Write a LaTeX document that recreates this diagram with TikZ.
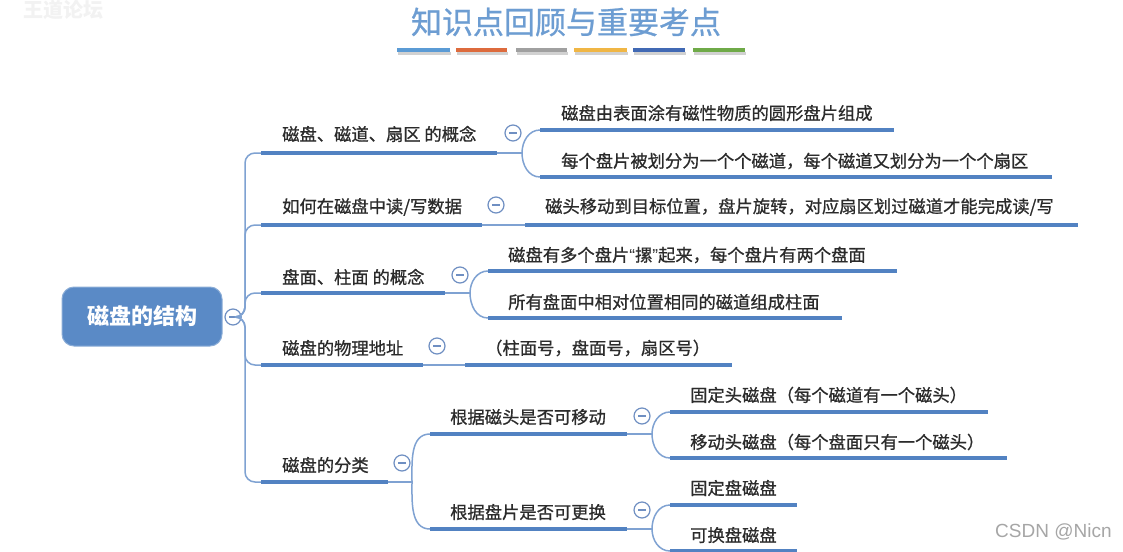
\documentclass[tikz,border=0pt]{standalone}
\usepackage{fontspec}
\newfontfamily\cjk{Noto Sans CJK SC}
\newfontfamily\cjkm[RawFeature={embolden=0.8}]{Noto Sans CJK SC}
\newfontfamily\latinsans{Liberation Sans}
\definecolor{txt}{HTML}{2B2B2B}
\definecolor{ulinec}{HTML}{5282C2}
\definecolor{thinc}{HTML}{7FA2D2}
\definecolor{foldc}{HTML}{6F8FC2}
\definecolor{rootc}{HTML}{5A8AC6}
\definecolor{titlec}{HTML}{6D9DD2}
\definecolor{barA}{HTML}{5B9BD5}
\definecolor{barB}{HTML}{DD6B3D}
\definecolor{barC}{HTML}{A0A0A0}
\definecolor{barD}{HTML}{F0B645}
\definecolor{barE}{HTML}{4169B4}
\definecolor{barF}{HTML}{6FAA48}
\newcommand{\myLq}{{\latinsans “}}
\newcommand{\myRq}{{\latinsans ”}}
\tikzset{
  topic/.style={anchor=west, inner sep=0pt, text=txt, font=\cjkm\fontsize{17.3}{17.3}\selectfont},
  uline/.style={line width=4pt, draw=ulinec},
  thinln/.style={line width=1.5pt, draw=thinc},
  fold/.style={circle, draw=foldc, line width=1.2pt, fill=white, minimum size=16pt, inner sep=0pt,
    path picture={\draw[foldc, line width=1.3pt] ([xshift=-4pt]path picture bounding box.center) -- ([xshift=4pt]path picture bounding box.center);}},
  rootbox/.style={rounded corners=12pt, fill=rootc, draw=rootc!70!white, line width=1pt, minimum width=160pt, minimum height=59pt, text=white, font=\cjk\bfseries\fontsize{22}{22}\selectfont},
  titlebar/.style={line width=4pt},
  barshadow/.style={line width=3pt, draw=black!18},
}
\begin{document}
\begin{tikzpicture}[x=1pt, y=-1pt]
\useasboundingbox (0,0) rectangle (1123,551);
\fill[white] (0,0) rectangle (1123,551);

% watermarks
\node[anchor=west, inner sep=0pt, text=black!5, font=\cjk\bfseries\fontsize{20}{20}\selectfont] (wm) at (23,10) {王道论坛};
\node[anchor=west, inner sep=0pt, text=black!35, font=\latinsans\fontsize{19}{19}\selectfont] (csdn) at (995,532) {CSDN @Nicn};

% title
\node[inner sep=0pt, text=titlec, font=\cjkm\fontsize{31}{31}\selectfont] (title) at (566,22) {知识点回顾与重要考点};
\foreach \a/\b/\c in {397/450/barA, 456/507/barB, 516/567/barC, 574/627/barD, 633/685/barE, 693/745/barF}{
  \draw[barshadow] (\a+1,53.5) -- (\b+1,53.5);
  \draw[titlebar, draw=\c] (\a,50.5) -- (\b,50.5);
}

% root
\node[rootbox] (root) at (142,316.5) {磁盘的结构};
\node[fold] (rootfold) at (233,317) {};
\coordinate (spine) at (245,317);

% level-1 topics
\node[topic] (b1) at (282,134) {磁盘、磁道、扇区 的概念};
\node[topic] (b2) at (282,207) {如何在磁盘中读/写数据};
\node[topic] (b3) at (282,277) {盘面、柱面 的概念};
\node[topic] (b4) at (282,348) {磁盘的物理地址};
\node[topic] (b5) at (282,465) {磁盘的分类};

\node[fold] (f1) at (513,133) {};
\node[fold] (f2) at (496,205) {};
\node[fold] (f3) at (460,275) {};
\node[fold] (f4) at (437,346) {};
\node[fold] (f5) at (402,463) {};

\coordinate (b1s) at (261,153); \coordinate (b1e) at (497,153); \coordinate (b1f) at (522,153);
\coordinate (b2s) at (261,225); \coordinate (b2e) at (482,225);
\coordinate (b3s) at (261,293); \coordinate (b3e) at (445,293); \coordinate (b3f) at (470,293);
\coordinate (b4s) at (261,365); \coordinate (b4e) at (423,365);
\coordinate (b5s) at (261,482); \coordinate (b5e) at (388,482); \coordinate (b5f) at (412,482);

% level-2 topics
\node[topic] (c11) at (561,113) {磁盘由表面涂有磁性物质的圆形盘片组成};
\node[topic] (c12) at (561,161) {每个盘片被划分为一个个磁道，每个磁道又划分为一个个扇区};
\node[topic] (c21) at (545,207) {磁头移动到目标位置，盘片旋转，对应扇区划过磁道才能完成读/写};
\node[topic] (c31) at (508,255) {磁盘有多个盘片\myLq 摞\myRq 起来，每个盘片有两个盘面};
\node[topic] (c32) at (508,302) {所有盘面中相对位置相同的磁道组成柱面};
\node[topic] (c41) at (485,348) {（柱面号，盘面号，扇区号）};
\node[topic] (c51) at (450,417) {根据磁头是否可移动};
\node[topic] (c52) at (450,512) {根据盘片是否可更换};

\coordinate (c11s) at (540,130); \coordinate (c11e) at (894,130);
\coordinate (c12s) at (540,177); \coordinate (c12e) at (1052,177);
\coordinate (c21s) at (525,225); \coordinate (c21e) at (1078,225);
\coordinate (c31s) at (488,271); \coordinate (c31e) at (897,271);
\coordinate (c32s) at (488,318); \coordinate (c32e) at (842,318);
\coordinate (c41s) at (465,365); \coordinate (c41e) at (732,365);
\coordinate (c51s) at (430,434); \coordinate (c51e) at (627,434); \coordinate (c51f) at (652,434);
\coordinate (c52s) at (430,529); \coordinate (c52e) at (627,529); \coordinate (c52f) at (652,529);

\node[fold] (g1) at (642,416) {};
\node[fold] (g2) at (642,510) {};

% level-3 topics
\node[topic] (d11) at (690,395) {固定头磁盘（每个磁道有一个磁头）};
\node[topic] (d12) at (690,442) {移动头磁盘（每个盘面只有一个磁头）};
\node[topic] (d21) at (690,488) {固定盘磁盘};
\node[topic] (d22) at (690,535) {可换盘磁盘};

\coordinate (d11s) at (670,412); \coordinate (d11e) at (988,412);
\coordinate (d12s) at (670,458); \coordinate (d12e) at (1007,458);
\coordinate (d21s) at (670,505); \coordinate (d21e) at (797,505);
\coordinate (d22s) at (670,551); \coordinate (d22e) at (797,551);

% spine connectors
\foreach \b in {b1s,b2s,b3s,b4s,b5s}{
  \draw[thinln, rounded corners=10pt] (rootfold.east) -- (spine) |- (\b);
}

% thin connectors parent -> children
\draw[thinln] (b1e) -- (b1f);
\draw[thinln] (b1f) to[out=90, in=180] (c11s);
\draw[thinln] (b1f) to[out=-90, in=180] (c12s);
\draw[thinln] (b2e) -- (c21s);
\draw[thinln] (b3e) -- (b3f);
\draw[thinln] (b3f) to[out=90, in=180] (c31s);
\draw[thinln] (b3f) to[out=-90, in=180] (c32s);
\draw[thinln] (b4e) -- (c41s);
\draw[thinln] (b5e) -- (b5f);
\draw[thinln] (b5f) to[out=90, in=180] (c51s);
\draw[thinln] (b5f) to[out=-90, in=180] (c52s);
\draw[thinln] (c51e) -- (c51f);
\draw[thinln] (c51f) to[out=90, in=180] (d11s);
\draw[thinln] (c51f) to[out=-90, in=180] (d12s);
\draw[thinln] (c52e) -- (c52f);
\draw[thinln] (c52f) to[out=90, in=180] (d21s);
\draw[thinln] (c52f) to[out=-90, in=180] (d22s);

% underlines
\foreach \n in {b1,b2,b3,b4,b5,c11,c12,c21,c31,c32,c41,c51,c52,d11,d12,d21,d22}{
  \draw[uline] (\n s) -- (\n e);
}
\end{tikzpicture}
\end{document}
